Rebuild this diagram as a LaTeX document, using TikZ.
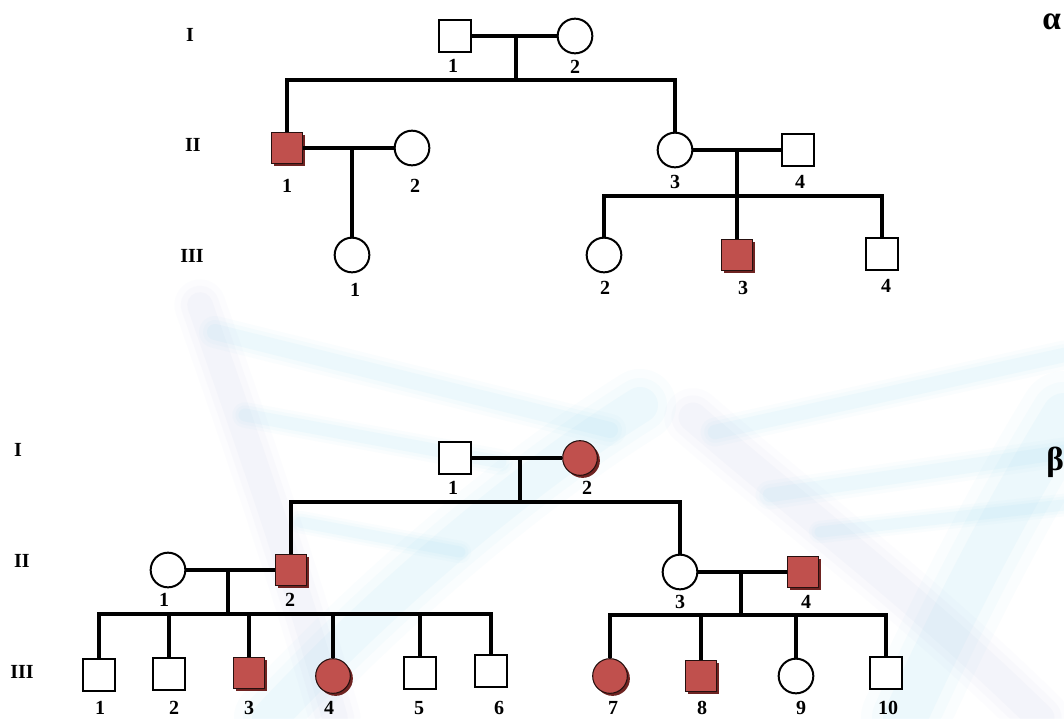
\documentclass[tikz,border=0pt]{standalone}
\usepackage{fontspec}
\setmainfont{Liberation Serif}
\usetikzlibrary{shadows}
\definecolor{affected}{RGB}{192,80,77}
\definecolor{affshadow}{RGB}{110,35,33}
\definecolor{wmlav}{RGB}{185,192,230}
\definecolor{wmcyan}{RGB}{140,215,245}
\tikzset{
  person/.style={draw=black, line width=1.5pt, fill=white, inner sep=0pt},
  male/.style={person, rectangle, minimum size=23.5pt},
  female/.style={person, circle, minimum size=26pt},
  affshade/.style={fill=affected, draw=black!80!affected, line width=0.8pt,
    drop shadow={shadow xshift=1.9pt, shadow yshift=-1.9pt, fill=affshadow, opacity=1}},
  amale/.style={male, affshade},
  afemale/.style={female, affshade},
  conn/.style={line width=2.3pt},
  num/.style={font=\bfseries\fontsize{15}{15}\selectfont, inner sep=0pt},
  greek/.style={font=\bfseries\fontsize{25}{25}\selectfont, inner sep=0pt, anchor=west},
  band/.style={line width=#1*0.75pt, line cap=round},
}
\newcommand{\softband}[3]{% colour, width in px, path
  \foreach \f/\o in {1.6/0.04,1.2/0.05,0.8/0.07}{
    \draw[band=#2*\f, draw=#1, opacity=\o] #3;}}
\begin{document}
\begin{tikzpicture}[x=0.75pt,y=-0.75pt]
\useasboundingbox (0,0) rectangle (1064,718);
\fill[white] (0,0) rectangle (1064,718);

% faint helix watermark behind the lower chart
\begin{scope}
\clip (0,0) rectangle (1064,718);
\softband{wmlav}{32}{(200,305) .. controls (240,420) and (290,560) .. (335,718)}
\softband{wmcyan}{45}{(270,718) .. controls (380,600) and (520,480) .. (640,405)}
\softband{wmcyan}{20}{(215,332) -- (610,430)}
\softband{wmcyan}{16}{(245,415) -- (500,462)}
\softband{wmcyan}{14}{(300,522) -- (460,552)}
\softband{wmlav}{36}{(693,417) .. controls (800,510) and (920,600) .. (1040,718)}
\softband{wmcyan}{55}{(1064,415) .. controls (1000,520) and (950,620) .. (905,718)}
\softband{wmcyan}{18}{(715,432) -- (1064,355)}
\softband{wmcyan}{18}{(770,495) -- (1064,452)}
\softband{wmcyan}{14}{(820,532) -- (1064,505)}
\end{scope}

% ---------- upper chart ----------
\node[num] (aGI)   at (190,35)  {I};
\node[num] (aGII)  at (193,145) {II};
\node[num] (aGIII) at (192,256) {III};
\node[greek] (alpha) at (1042,22) {α};

\node[male]    (aI1)   at (455,36)  {};
\node[female]  (aI2)   at (575,36)  {};
\node[amale]   (aII1)  at (287,148) {};
\node[female]  (aII2)  at (412,148) {};
\node[female]  (aII3)  at (675,150) {};
\node[male]    (aII4)  at (798,150) {};
\node[female]  (aIII1) at (352,255) {};
\node[female]  (aIII2) at (604,255) {};
\node[amale]   (aIII3) at (737,255) {};
\node[male]    (aIII4) at (882,254) {};

\coordinate (aD1) at (516,36);  \coordinate (aS1) at (516,80);
\coordinate (aD2) at (352,148);
\coordinate (aD3) at (737,150); \coordinate (aS3) at (737,196);

\draw[conn] (aI1.east) -- (aI2.west);
\draw[conn] (aD1) -- (aS1);
\draw[conn] (aII1.north) |- (aS1) -| (aII3.north);
\draw[conn] (aII1.east) -- (aII2.west);
\draw[conn] (aD2) -- (aIII1.north);
\draw[conn] (aII3.east) -- (aII4.west);
\draw[conn] (aD3) -- (aIII3.north);
\draw[conn] (aIII2.north) |- (aS3) -| (aIII4.north);

\node[num] (laI1)   at (453,66)  {1};
\node[num] (laI2)   at (575,67)  {2};
\node[num] (laII1)  at (287,186) {1};
\node[num] (laII2)  at (415,186) {2};
\node[num] (laII3)  at (675,182) {3};
\node[num] (laII4)  at (800,182) {4};
\node[num] (laIII1) at (355,290) {1};
\node[num] (laIII2) at (605,288) {2};
\node[num] (laIII3) at (743,288) {3};
\node[num] (laIII4) at (886,286) {4};

% ---------- lower chart ----------
\node[num] (bGI)   at (18,450) {I};
\node[num] (bGII)  at (22,561) {II};
\node[num] (bGIII) at (22,672) {III};
\node[greek] (beta) at (1046,462) {β};

\node[male]    (bI1)   at (455,458) {};
\node[afemale] (bI2)   at (580,458) {};
\node[female]  (bII1)  at (168,570) {};
\node[amale]   (bII2)  at (291,570) {};
\node[female]  (bII3)  at (680,572) {};
\node[amale]   (bII4)  at (803,572) {};
\node[male]    (bIII1) at (99,675)  {};
\node[male]    (bIII2) at (169,674) {};
\node[amale]   (bIII3) at (249,673) {};
\node[afemale] (bIII4) at (333,676) {};
\node[male]    (bIII5) at (420,673) {};
\node[male]    (bIII6) at (491,671) {};
\node[afemale] (bIII7) at (610,676) {};
\node[amale]   (bIII8) at (701,676) {};
\node[female]  (bIII9) at (796,676) {};
\node[male]    (bIII10) at (886,673) {};

\coordinate (bD1) at (520,458); \coordinate (bS1) at (520,502);
\coordinate (bD2) at (228,570); \coordinate (bS2) at (228,614);
\coordinate (bD3) at (741,572); \coordinate (bS3) at (741,615);

\draw[conn] (bI1.east) -- (bI2.west);
\draw[conn] (bD1) -- (bS1);
\draw[conn] (bII2.north) |- (bS1) -| (bII3.north);

\draw[conn] (bII1.east) -- (bII2.west);
\draw[conn] (bD2) -- (bS2);
\draw[conn] (bIII1.north) |- (bS2) -| (bIII6.north);
\foreach \c in {bIII2,bIII3,bIII4,bIII5}
  \draw[conn] (\c.north) -- (\c.north |- bS2);

\draw[conn] (bII3.east) -- (bII4.west);
\draw[conn] (bD3) -- (bS3);
\draw[conn] (bIII7.north) |- (bS3) -| (bIII10.north);
\foreach \c in {bIII8,bIII9}
  \draw[conn] (\c.north) -- (\c.north |- bS3);

\node[num] (lbI1)   at (453,488) {1};
\node[num] (lbI2)   at (587,488) {2};
\node[num] (lbII1)  at (164,600) {1};
\node[num] (lbII2)  at (290,600) {2};
\node[num] (lbII3)  at (680,602) {3};
\node[num] (lbII4)  at (806,602) {4};
\node[num] (lbIII1) at (100,708) {1};
\node[num] (lbIII2) at (174,708) {2};
\node[num] (lbIII3) at (249,708) {3};
\node[num] (lbIII4) at (329,708) {4};
\node[num] (lbIII5) at (419,708) {5};
\node[num] (lbIII6) at (499,708) {6};
\node[num] (lbIII7) at (613,708) {7};
\node[num] (lbIII8) at (702,708) {8};
\node[num] (lbIII9) at (801,708) {9};
\node[num] (lbIII10) at (888,708) {10};
\end{tikzpicture}
\end{document}
